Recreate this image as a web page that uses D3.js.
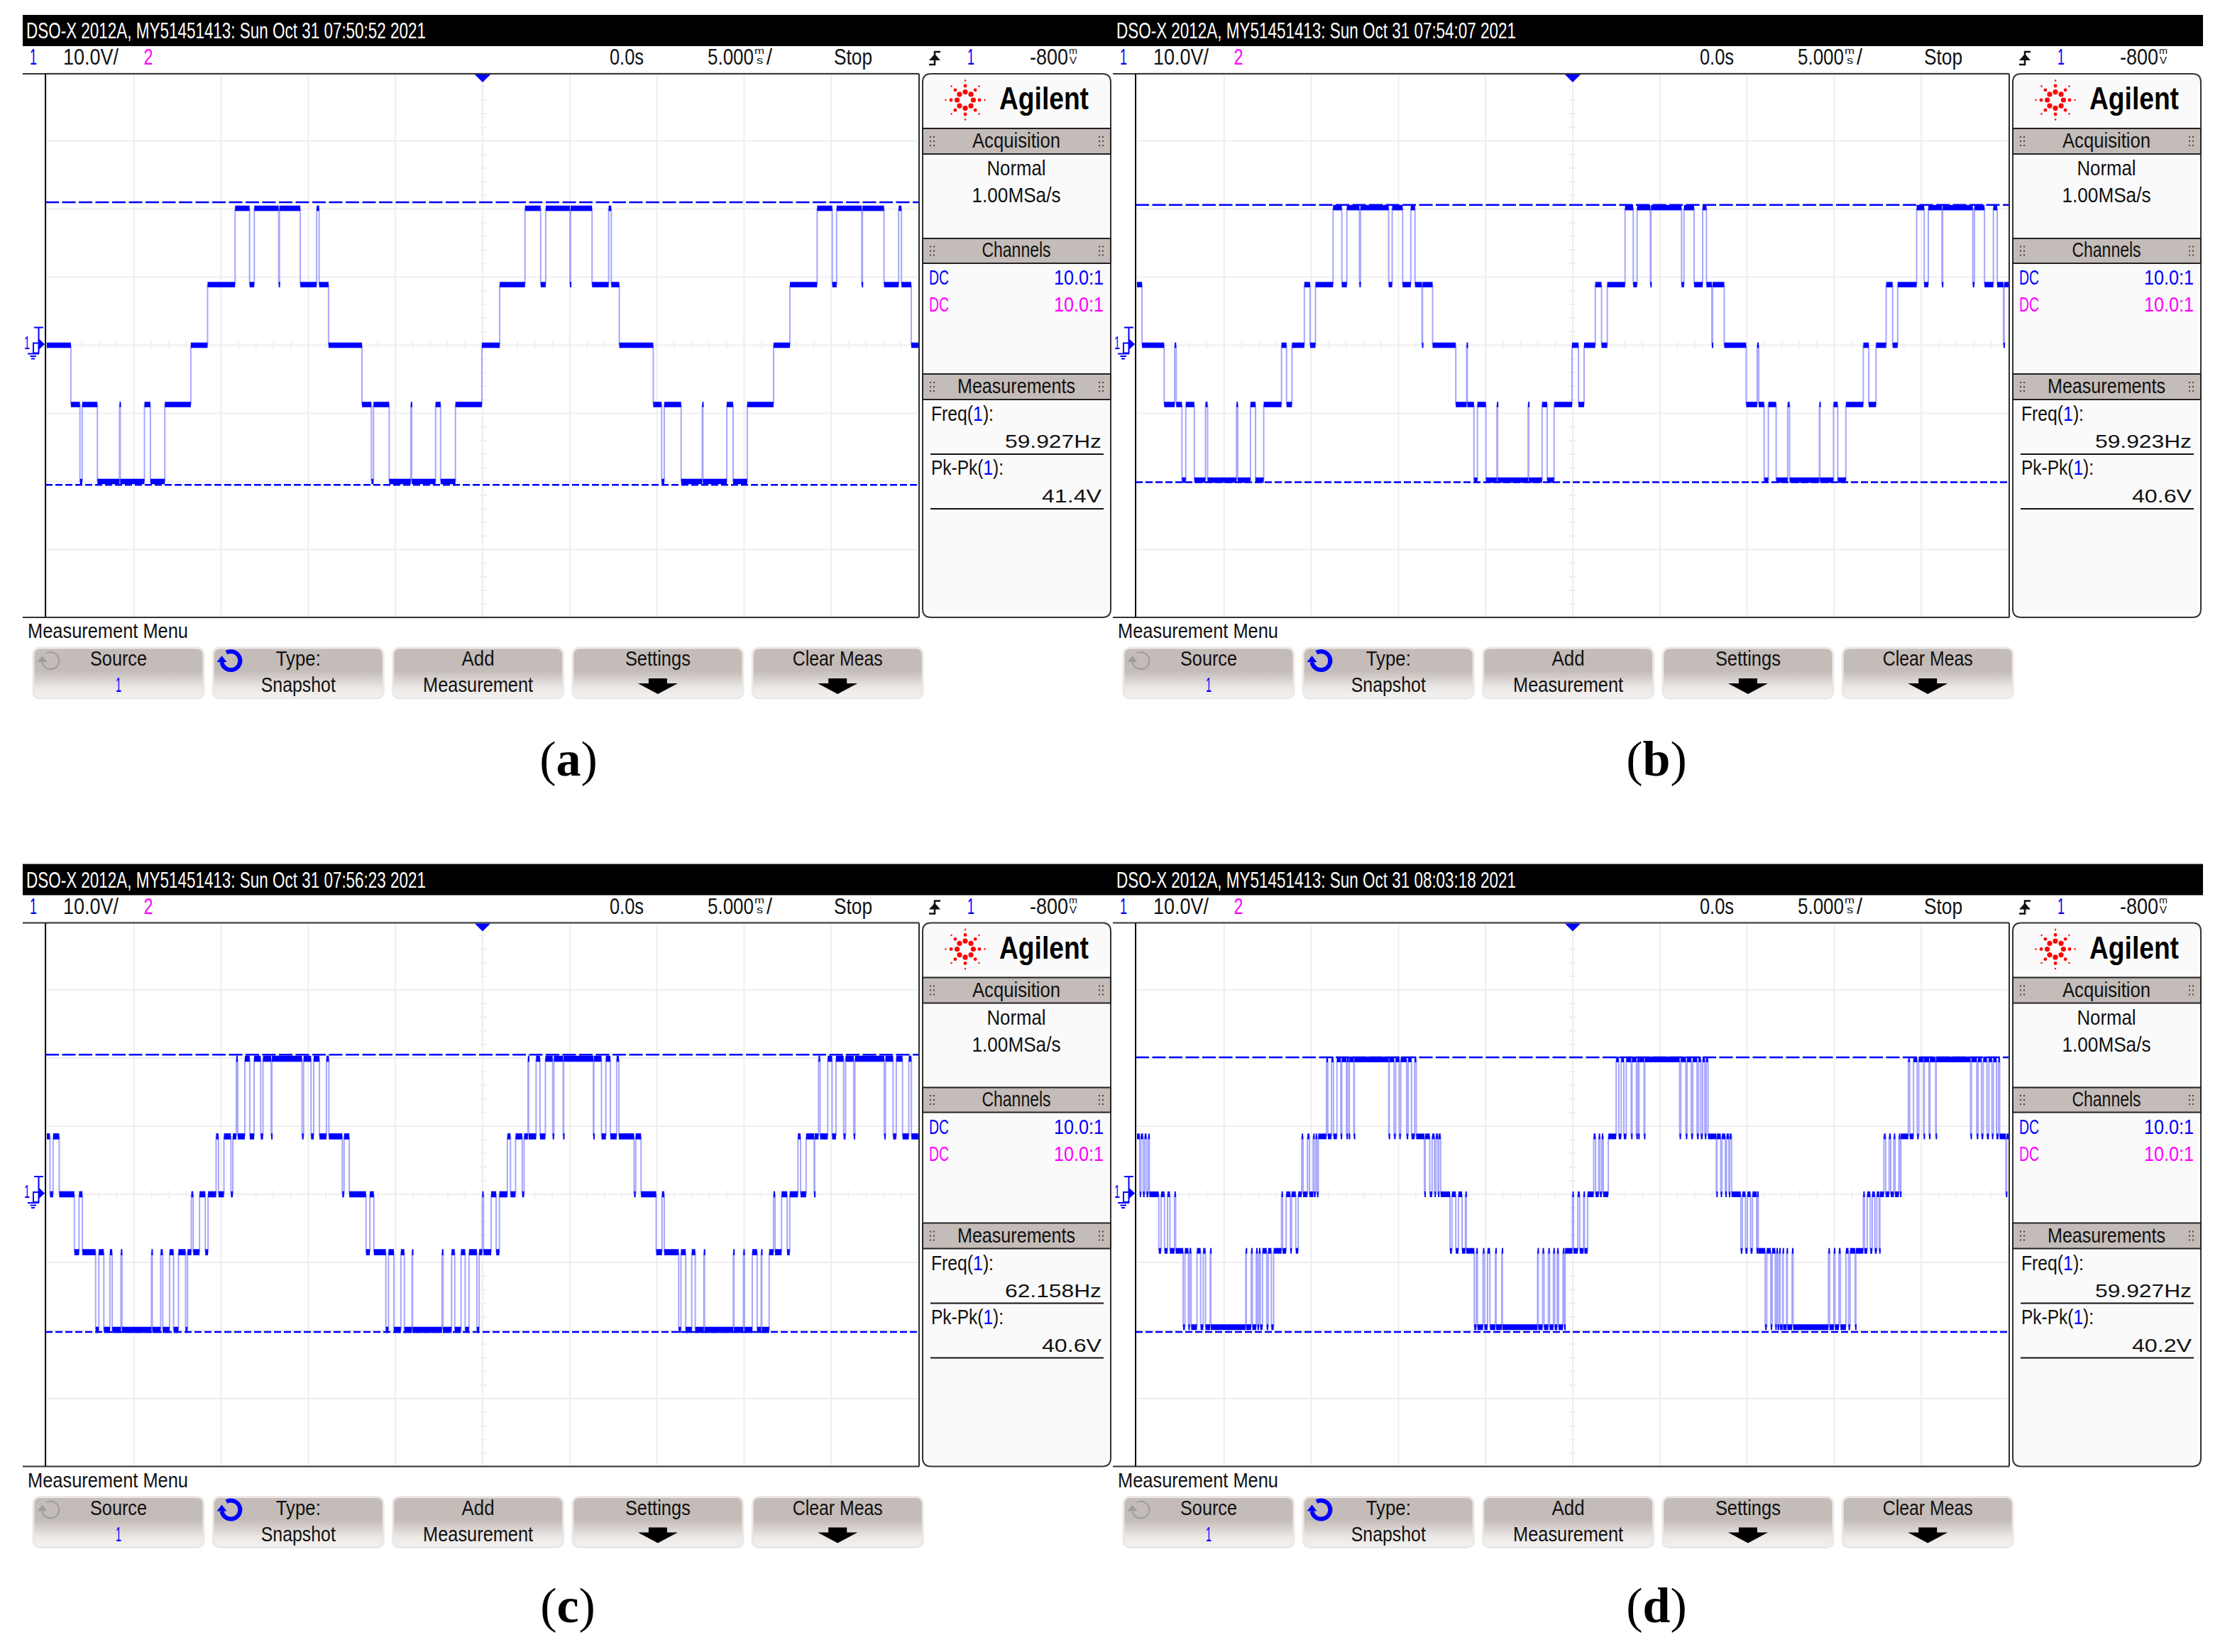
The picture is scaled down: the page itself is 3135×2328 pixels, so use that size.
<!DOCTYPE html>
<html>
<head>
<meta charset="utf-8">
<script src="https://cdnjs.cloudflare.com/ajax/libs/d3/7.8.5/d3.min.js"></script>
<style>
  body { margin: 0; background: #fff; }
  svg { display: block; }
  text { font-family: "Liberation Sans Narrow", "Liberation Sans", sans-serif; }
</style>
</head>
<body>
<div id="chart"></div>
<script>
// scope readings, one entry per screenshot
const panelOrder = ['a', 'b', 'c', 'd'];
const timestamps = ['Sun Oct 31 07:50:52 2021', 'Sun Oct 31 07:54:07 2021', 'Sun Oct 31 07:56:23 2021', 'Sun Oct 31 08:03:18 2021'];
const freqReadings = ['59.927Hz', '59.923Hz', '62.158Hz', '59.927Hz'];
const pkpkReadings = ['41.4V', '40.6V', '40.6V', '40.2V'];

// volts of the five inverter levels (+2, +1, 0, -1, -2)
const levelsA = [20.1, 8.9, 0, -8.7, -20.0];
const levelsB = [20.2, 8.9, 0, -8.7, -19.8];
const levelsC = [19.9, 8.5, 0, -8.5, -19.9];
const levelsD = [19.8, 8.5, 0, -8.3, -19.5];

// dashed cursors, volts
const cursorsA = [21.0, -20.5];
const cursorsB = [20.6, -20.1];
const cursorsC = [20.5, -20.2];
const cursorsD = [20.1, -20.2];

// switching edges: [time in ms, level after the edge]
const edgesA = [[-25,0],[-23.62,-1],[-23.10,-2],[-22.97,-1],[-22.10,-2],[-20.83,-1],[-20.79,-2],[-19.40,-1],[-19.06,-2],[-18.23,-1],
  [-16.74,0],[-15.78,1],[-14.20,2],[-13.37,1],[-13.10,2],[-11.70,1],[-11.66,2],[-10.46,1],[-9.52,2],[-9.38,1],[-8.84,0],
  [-6.92,-1],[-6.38,-2],[-6.26,-1],[-5.36,-2],[-4.12,-1],[-4.07,-2],[-2.70,-1],[-2.41,-2],[-1.56,-1],[-0.04,0],
  [0.98,1],[2.43,2],[3.33,1],[3.62,2],[5.01,1],[5.05,2],[6.28,1],[7.23,2],[7.38,1],[7.84,0],
  [9.79,-1],[10.27,-2],[10.42,-1],[11.39,-2],[12.60,-1],[12.64,-2],[14.01,-1],[14.37,-2],[15.18,-1],[16.69,0],
  [17.63,1],[19.19,2],[20.06,1],[20.31,2],[21.75,1],[21.79,2],[23.03,1],[23.87,2],[24.03,1],[24.59,0],[25,0]];

const edgesB = [[-25,1],[-24.71,0],[-23.44,-1],[-22.84,0],[-22.75,-1],[-22.42,-2],[-22.20,-1],[-21.71,-2],[-21.07,-1],[-20.95,-2],
  [-19.29,-1],[-19.22,-2],[-18.49,-1],[-18.20,-2],[-17.73,-1],[-16.71,0],[-16.42,-1],[-16.11,0],[-15.40,1],[-15.07,0],[-14.76,1],
  [-13.75,2],[-13.25,1],[-12.96,2],[-12.24,1],[-12.18,2],[-10.56,1],[-10.36,2],[-9.76,1],[-9.29,2],[-9.05,1],[-8.65,0],[-8.62,1],[-8.04,0],
  [-6.71,-1],[-6.09,0],[-6.05,-1],[-5.67,-2],[-5.47,-1],[-4.98,-2],[-4.35,-1],[-4.31,-2],[-2.56,-1],[-2.53,-2],[-1.76,-1],[-1.47,-2],[-1.07,-1],
  [-0.04,0],[0.33,-1],[0.65,0],[1.29,1],[1.65,0],[1.98,1],[3.00,2],[3.47,1],[3.69,2],[4.45,1],[4.49,2],[6.24,1],[6.38,2],[6.96,1],[7.45,2],[7.67,1],[7.98,0],[8.02,1],[8.69,0],
  [9.95,-1],[10.58,0],[10.67,-1],[10.98,-2],[11.22,-1],[11.67,-2],[12.33,-1],[12.44,-2],[14.15,-1],[14.18,-2],[14.96,-1],[15.20,-2],[15.67,-1],
  [16.67,0],[16.98,-1],[17.40,0],[17.98,1],[18.35,0],[18.64,1],[19.73,2],[20.16,1],[20.40,2],[21.18,1],[21.22,2],[22.95,1],[23.04,2],[23.62,1],[24.13,2],[24.35,1],[24.71,0],[24.75,1],[25,1]];

const edgesC = [[-25,1],[-24.82,0],[-24.64,1],[-24.29,0],[-23.42,-1],[-23.15,0],[-22.96,-1],[-22.20,-2],[-22.02,-1],[-21.73,-2],[-21.38,-1],[-21.25,-2],[-20.75,-1],[-20.69,-2],
  [-19.00,-1],[-18.95,-2],[-18.47,-1],[-18.35,-2],[-17.96,-1],[-17.73,-2],[-17.45,-1],[-17.04,-2],[-16.93,-1],[-16.71,0],[-16.60,-1],[-16.24,0],[-15.91,-1],[-15.75,0],
  [-15.29,1],[-15.15,0],[-14.84,1],[-14.44,0],[-14.33,1],[-14.13,2],[-14.05,1],[-13.64,2],[-13.36,1],[-13.11,2],[-12.73,1],[-12.60,2],[-12.13,1],[-12.09,2],
  [-10.36,1],[-10.27,2],[-9.84,1],[-9.69,2],[-9.36,1],[-8.96,2],[-8.82,1],[-8.05,0],[-7.95,1],[-7.65,0],[-6.69,-1],[-6.47,0],[-6.24,-1],
  [-5.55,-2],[-5.40,-1],[-5.09,-2],[-4.69,-1],[-4.49,-2],[-4.05,-1],[-4.02,-2],[-2.33,-1],[-2.27,-2],[-1.78,-1],[-1.60,-2],[-1.24,-1],[-1.00,-2],[-0.78,-1],[-0.33,-2],[-0.20,-1],
  [-0.02,0],[0.05,-1],[0.49,0],[0.78,-1],[0.96,0],[1.42,1],[1.60,0],[1.89,1],[2.27,0],[2.38,1],[2.60,2],[2.64,1],[3.07,2],[3.29,1],[3.60,2],[4.02,1],[4.09,2],[4.62,1],[4.65,2],
  [6.35,1],[6.38,2],[6.82,1],[7.07,2],[7.33,1],[7.69,2],[7.82,1],[8.69,0],[8.78,1],[9.09,0],[9.96,-1],[10.29,0],[10.42,-1],
  [11.25,-2],[11.38,-1],[11.65,-2],[12.00,-1],[12.20,-2],[12.69,-1],[12.73,-2],[14.38,-1],[14.42,-2],[14.96,-1],[15.02,-2],[15.47,-1],[15.75,-2],[15.98,-1],[16.02,-2],[16.44,-1],
  [16.69,0],[16.78,-1],[17.15,0],[17.47,-1],[17.62,0],[18.09,1],[18.24,0],[18.56,1],[19.02,0],[19.05,1],[19.27,2],[19.36,1],[19.80,2],[20.05,1],[20.27,2],[20.71,1],[20.82,2],
  [21.29,1],[21.36,2],[23.04,1],[23.11,2],[23.55,1],[23.73,2],[24.09,1],[24.45,2],[24.60,1],[25,1]];

const edgesD = [[-25,1],[-24.84,0],[-24.78,1],[-24.65,0],[-24.56,1],[-24.45,0],[-24.35,1],[-24.29,0],[-23.75,-1],[-23.62,0],[-23.42,-1],[-23.25,0],[-23.11,-1],[-22.85,0],[-22.78,-1],
  [-22.35,-2],[-22.25,-1],[-22.05,-2],[-21.98,-1],[-21.89,-2],[-21.56,-1],[-21.35,-2],[-21.20,-1],[-21.07,-2],[-20.80,-1],[-20.76,-2],
  [-18.76,-1],[-18.73,-2],[-18.45,-1],[-18.38,-2],[-18.16,-1],[-18.09,-2],[-18.00,-1],[-17.93,-2],[-17.80,-1],[-17.56,-2],[-17.47,-1],[-17.29,-2],[-17.16,-1],
  [-16.71,0],[-16.65,-1],[-16.44,0],[-16.20,-1],[-16.13,0],[-15.89,-1],[-15.75,0],[-15.55,1],[-15.47,0],[-15.22,1],[-15.11,0],[-14.89,1],[-14.85,0],[-14.75,1],[-14.67,0],[-14.60,1],
  [-14.13,2],[-14.05,1],[-13.84,2],[-13.73,1],[-13.53,2],[-13.31,1],[-13.25,2],[-12.98,1],[-12.95,2],[-12.85,1],[-12.82,2],[-12.56,1],[-12.53,2],
  [-10.56,1],[-10.53,2],[-10.25,1],[-10.16,2],[-9.95,1],[-9.87,2],[-9.53,1],[-9.44,2],[-9.25,1],[-9.07,2],[-8.98,1],
  [-8.51,0],[-8.47,1],[-8.20,0],[-8.07,1],[-7.93,0],[-7.85,1],[-7.73,0],[-7.69,1],[-7.58,0],[-7.04,-1],[-6.93,0],[-6.71,-1],[-6.56,0],[-6.35,-1],[-6.16,0],[-6.11,-1],
  [-5.65,-2],[-5.53,-1],[-5.47,-2],[-5.15,-1],[-5.07,-2],[-4.89,-1],[-4.75,-2],[-4.44,-1],[-4.40,-2],[-4.07,-1],[-4.04,-2],
  [-2.02,-1],[-1.98,-2],[-1.73,-1],[-1.65,-2],[-1.40,-1],[-1.33,-2],[-1.11,-1],[-1.04,-2],[-0.89,-1],[-0.82,-2],[-0.56,-1],[-0.49,-2],[-0.44,-1],
  [-0.02,0],[0.04,-1],[0.29,0],[0.40,-1],[0.62,0],[0.67,-1],[0.85,0],[1.20,1],[1.31,0],[1.49,1],[1.56,0],[1.67,1],[1.75,0],[2.04,1],
  [2.49,2],[2.64,1],[2.78,2],[2.93,1],[3.07,2],[3.35,1],[3.40,2],[3.65,1],[3.71,2],[3.76,1],[3.80,2],[4.09,1],[4.13,2],
  [6.13,1],[6.20,2],[6.49,1],[6.56,2],[6.80,1],[6.89,2],[7.13,1],[7.22,2],[7.35,1],[7.45,2],[7.58,1],[7.65,2],[7.76,1],
  [8.24,0],[8.27,1],[8.49,0],[8.56,1],[8.75,0],[8.82,1],[8.96,0],[9.00,1],[9.11,0],[9.64,-1],[9.73,0],[9.91,-1],[10.02,0],[10.20,-1],[10.31,0],[10.55,-1],[10.58,0],[10.64,-1],
  [11.04,-2],[11.13,-1],[11.36,-2],[11.44,-1],[11.62,-2],[11.69,-1],[11.75,-2],[11.85,-1],[11.89,-2],[12.04,-1],[12.07,-2],[12.27,-1],[12.31,-2],[12.58,-1],[12.64,-2],
  [14.67,-1],[14.73,-2],[14.98,-1],[15.04,-2],[15.27,-1],[15.36,-2],[15.67,-1],[15.82,-2],[15.91,-1],[16.20,-2],[16.24,-1],
  [16.67,0],[16.73,-1],[16.89,0],[17.07,-1],[17.18,0],[17.33,-1],[17.44,0],[17.58,-1],[17.62,0],[17.85,1],[17.95,0],[18.15,1],[18.24,0],[18.42,1],[18.49,0],[18.71,1],[18.78,0],[18.82,1],
  [19.25,2],[19.33,1],[19.55,2],[19.76,1],[19.85,2],[20.13,1],[20.16,2],[20.44,1],[20.49,2],[20.82,1],[20.85,2],
  [22.82,1],[22.87,2],[23.18,1],[23.25,2],[23.45,1],[23.55,2],[23.76,1],[23.87,2],[24.05,1],[24.13,2],[24.31,1],[24.42,2],[24.49,1],[24.85,0],[24.89,1],[25,1]];

const softKeys = [['Source', '1'], ['Type:', 'Snapshot'], ['Add', 'Measurement'], ['Settings', null], ['Clear Meas', null]];

const allEdges = [edgesA, edgesB, edgesC, edgesD];
const allLevels = [levelsA, levelsB, levelsC, levelsD];
const allCursors = [cursorsA, cursorsB, cursorsC, cursorsD];
const bandHeights = [7.6, 7.6, 8.6, 8];

const width = 3135, height = 2328;
const blue = '#0000ff', magenta = '#ff00ff', ink = '#111';

const svg = d3.select('#chart').append('svg')
  .attr('width', width).attr('height', height);
svg.append('rect').attr('width', width).attr('height', height).attr('fill', '#fff');

const grad = svg.append('defs').append('linearGradient')
  .attr('id', 'keyFill').attr('x1', 0).attr('x2', 0).attr('y1', 0).attr('y2', 1);
grad.append('stop').attr('offset', '0.45').attr('stop-color', '#c4bcb8');
grad.append('stop').attr('offset', '0.8').attr('stop-color', '#ebe8e6');
grad.append('stop').attr('offset', '1').attr('stop-color', '#f4f2f0');

// narrow instrument font: every label gets squeezed to its measured width
function label(g, str, x, y, w, opts = {}) {
  const t = g.append('text')
    .attr('x', x).attr('y', y)
    .attr('text-anchor', opts.anchor || 'start')
    .attr('font-size', opts.size || 29)
    .attr('font-weight', opts.weight || 'normal')
    .attr('fill', opts.fill || ink)
    .attr('textLength', w)
    .attr('lengthAdjust', 'spacingAndGlyphs')
    .text(str);
  if (opts.wide) t.style('font-family', '"Liberation Sans", sans-serif');
  return t;
}

// value with its unit stacked small on top of each other, kept as one text
function stackedUnit(g, parts) {
  const t = g.append('text').attr('fill', ink);
  parts.forEach(([str, x, y, size, w]) => {
    t.append('tspan').attr('x', x).attr('y', y).attr('font-size', size)
      .attr('textLength', w).attr('lengthAdjust', 'spacingAndGlyphs').text(str);
  });
}

function drawPanel(g, i) {
  const x = d3.scaleLinear().domain([-25, 25]).range([66, 1294]);
  const y = d3.scaleLinear().domain([40, -40]).range([102.5, 870.5]);

  // header strip
  g.append('rect').attr('x', 32).attr('y', 21).attr('width', 1536).attr('height', 44).attr('fill', '#000');
  label(g, 'DSO-X 2012A, MY51451413: ' + timestamps[i], 37, 54, 563, { fill: '#fff', size: 32 });

  // status row
  label(g, '1', 47, 91, 10, { fill: blue, anchor: 'middle', size: 32 });
  label(g, '10.0V/', 89, 91, 78, { size: 32 });
  label(g, '2', 209, 91, 13, { fill: magenta, anchor: 'middle', size: 32 });
  label(g, '0.0s', 859, 91, 48, { size: 32 });
  stackedUnit(g, [['5.000', 997, 91, 32, 65], ['m', 1063, 76, 13, 14], ['s', 1066, 90, 14, 9], ['/', 1080, 91, 32, 8]]);
  label(g, 'Stop', 1175, 91, 54, { size: 32 });
  label(g, '1', 1368, 91, 10, { fill: blue, anchor: 'middle', size: 32 });
  stackedUnit(g, [['-800', 1451, 91, 32, 54], ['m', 1506, 76, 13, 12], ['V', 1507, 90, 14, 10]]);

  // trigger slope icon
  g.append('path').attr('d', 'M1309 91H1317V73H1325').attr('fill', 'none').attr('stroke', ink).attr('stroke-width', 2.5);
  g.append('path').attr('d', 'M1309 85L1317 76L1325 85Z').attr('fill', ink);

  // graticule
  const gridColor = '#eeeeee';
  g.selectAll('line.vgrid').data(x.ticks(10)).enter().append('line').attr('class', 'vgrid')
    .attr('x1', d => x(d)).attr('x2', d => x(d)).attr('y1', 104).attr('y2', 870)
    .attr('stroke', gridColor).attr('stroke-width', 2);
  g.selectAll('line.hgrid').data(y.ticks(8)).enter().append('line').attr('class', 'hgrid')
    .attr('x1', 66).attr('x2', 1294).attr('y1', d => y(d)).attr('y2', d => y(d))
    .attr('stroke', gridColor).attr('stroke-width', 2);
  g.selectAll('line.xtick').data(d3.range(-25, 25.01, 1)).enter().append('line').attr('class', 'xtick')
    .attr('x1', d => x(d)).attr('x2', d => x(d)).attr('y1', y(0) - 5).attr('y2', y(0) + 5)
    .attr('stroke', gridColor).attr('stroke-width', 2);
  g.selectAll('line.ytick').data(d3.range(-40, 40.01, 2)).enter().append('line').attr('class', 'ytick')
    .attr('x1', x(0) - 5).attr('x2', x(0) + 5).attr('y1', d => y(d)).attr('y2', d => y(d))
    .attr('stroke', gridColor).attr('stroke-width', 2);

  // cursors
  const cursors = allCursors[i];
  [[cursors[0], '19 4.5'], [cursors[1], '10 4']].forEach(([v, dash]) => {
    g.append('line').attr('x1', 64).attr('x2', 1294).attr('y1', y(v)).attr('y2', y(v))
      .attr('stroke', blue).attr('stroke-width', 2.5).attr('stroke-dasharray', dash);
  });

  // trace: edges are pale, held levels saturate into a thick band
  const edges = allEdges[i];
  const levels = allLevels[i];
  const volts = s => levels[2 - s];
  const pairs = d3.pairs(edges);
  const band = bandHeights[i];
  g.selectAll('line.edge').data(pairs).enter().append('line').attr('class', 'edge')
    .attr('x1', d => x(d[1][0])).attr('x2', d => x(d[1][0]))
    .attr('y1', d => y(volts(d[0][1]))).attr('y2', d => y(volts(d[1][1])))
    .attr('stroke', '#a6a6ff').attr('stroke-width', 2);
  g.selectAll('rect.hold').data(pairs).enter().append('rect').attr('class', 'hold')
    .attr('x', d => x(d[0][0]))
    .attr('width', d => Math.max(2, x(d[1][0]) - x(d[0][0])))
    .attr('y', d => y(volts(d[0][1])) - band / 2)
    .attr('height', band)
    .attr('fill', blue);

  // frame around the plot
  g.append('path').attr('d', 'M32 104H1295').attr('stroke', '#333').attr('stroke-width', 2).attr('fill', 'none');
  g.append('path').attr('d', 'M32 870H1295').attr('stroke', '#333').attr('stroke-width', 2).attr('fill', 'none');
  g.append('path').attr('d', 'M64 104V870').attr('stroke', ink).attr('stroke-width', 2).attr('fill', 'none');
  g.append('path').attr('d', 'M1295 104V870').attr('stroke', '#333').attr('stroke-width', 2).attr('fill', 'none');

  // trigger position marker
  g.append('path').attr('d', `M${x(0) - 11} 105H${x(0) + 11}L${x(0)} 116Z`).attr('fill', blue);

  // channel 1 ground marker
  const gy = y(0);
  label(g, '1', 34, gy + 5, 8, { fill: blue, size: 26 });
  g.append('path')
    .attr('d', `M48 ${gy - 25}H61M54.500 ${gy - 25}V${gy - 3}M47 ${gy - 3}H54.500V${gy + 11}H47ZM39 ${gy + 12}H55M42.500 ${gy + 15.500}H51M44 ${gy + 19}H49`)
    .attr('fill', 'none').attr('stroke', blue).attr('stroke-width', 2);
  g.append('path').attr('d', `M54 ${gy - 10}L63 ${gy - 1.500}L54 ${gy + 7}Z`).attr('fill', blue);

  // side panel
  g.append('path')
    .attr('d', 'M1300 116Q1300 104 1312 104H1553Q1565 104 1565 116V858Q1565 870 1553 870H1312Q1300 870 1300 858Z')
    .attr('fill', '#fafafa').attr('stroke', '#333').attr('stroke-width', 2);

  // agilent spark
  const spark = g.append('g').attr('transform', 'translate(1360,141)');
  const arms = d3.range(0, 360, 45);
  [[11.4, 3.6], [20, 2.4], [27.5, 1.2]].forEach(([r, dot]) => {
    spark.selectAll(null).data(arms).enter().append('circle')
      .attr('cx', a => r * Math.cos(a * Math.PI / 180))
      .attr('cy', a => r * Math.sin(a * Math.PI / 180))
      .attr('r', dot).attr('fill', '#ff0000');
  });
  label(g, 'Agilent', 1408, 154, 126, { size: 44, weight: 'bold', fill: '#000', wide: true });

  const sections = [['Acquisition', 181, 217, 208, 124], ['Channels', 336, 371, 362, 97], ['Measurements', 527, 563, 554, 166]];
  sections.forEach(([name, top, bot, base, w]) => {
    g.append('rect').attr('x', 1300).attr('y', top).attr('width', 265).attr('height', bot - top)
      .attr('fill', '#c4bcb8').attr('stroke', '#222').attr('stroke-width', 2);
    label(g, name, 1432, base, w, { anchor: 'middle', size: 29 });
    [1310, 1315, 1548, 1553].forEach(dx => {
      [-6, 0, 6].forEach(dy => {
        g.append('rect').attr('x', dx).attr('y', (top + bot) / 2 + dy - 1).attr('width', 2).attr('height', 2).attr('fill', '#444');
      });
    });
  });

  label(g, 'Normal', 1432, 247, 83, { anchor: 'middle', size: 29 });
  label(g, '1.00MSa/s', 1432, 285, 125, { anchor: 'middle', size: 29 });
  label(g, 'DC', 1309, 401, 28, { fill: blue, size: 30 });
  label(g, '10.0:1', 1555, 401, 70, { fill: blue, anchor: 'end', size: 30 });
  label(g, 'DC', 1309, 439, 28, { fill: magenta, size: 30 });
  label(g, '10.0:1', 1555, 439, 70, { fill: magenta, anchor: 'end', size: 30 });

  const freq = g.append('text').attr('x', 1312).attr('y', 593).attr('font-size', 29).attr('fill', ink).attr('textLength', 88).attr('lengthAdjust', 'spacingAndGlyphs');
  freq.append('tspan').text('Freq(');
  freq.append('tspan').attr('fill', blue).text('1');
  freq.append('tspan').text('):');
  label(g, freqReadings[i], 1552, 631, 136, { anchor: 'end', size: 26, wide: true });
  g.append('line').attr('x1', 1311).attr('x2', 1555).attr('y1', 640).attr('y2', 640).attr('stroke', ink).attr('stroke-width', 2);
  const pk = g.append('text').attr('x', 1312).attr('y', 669).attr('font-size', 29).attr('fill', ink).attr('textLength', 102).attr('lengthAdjust', 'spacingAndGlyphs');
  pk.append('tspan').text('Pk-Pk(');
  pk.append('tspan').attr('fill', blue).text('1');
  pk.append('tspan').text('):');
  label(g, pkpkReadings[i], 1552, 708, 84, { anchor: 'end', size: 26, wide: true });
  g.append('line').attr('x1', 1311).attr('x2', 1555).attr('y1', 717).attr('y2', 717).attr('stroke', ink).attr('stroke-width', 2);

  // softkeys
  label(g, 'Measurement Menu', 39, 899, 226, { size: 29 });
  const keyX = d3.scaleLinear().domain([0, 5]).range([47, 1313.5]);
  const topW = [80, 63, 46, 92, 127];
  const botW = [8, 105, 155];
  softKeys.forEach(([top, bottom], k) => {
    const kx = keyX(k), cx = kx + 120;
    g.append('rect').attr('x', kx).attr('y', 913).attr('width', 240).attr('height', 71).attr('rx', 9)
      .attr('fill', 'url(#keyFill)').attr('stroke', '#ece8e5').attr('stroke-width', 3);
    label(g, top, cx, 938, topW[k], { anchor: 'middle', size: 29 });
    if (bottom) {
      label(g, bottom, cx, 975, botW[k], { anchor: 'middle', size: 29, fill: k === 0 ? blue : ink });
    } else {
      g.append('path')
        .attr('d', `M${cx - 13} 956H${cx + 13}V963H${cx + 28}L${cx} 978L${cx - 28} 963H${cx - 13}Z`)
        .attr('fill', '#000');
    }
  });
  // knob arrows on the first two keys
  [[71.500, '#9e9e9e', 2, 12], [325.500, blue, 6, 13]].forEach(([cx, col, sw, r]) => {
    g.append('path')
      .attr('d', `M${cx - r * 0.5} ${931 - r * 0.87}A${r} ${r} 0 1 1 ${cx - r} 933`)
      .attr('fill', 'none').attr('stroke', col).attr('stroke-width', sw);
    g.append('path').attr('d', `M${cx - r - 7} 933L${cx - r} 924L${cx - r + 7} 933Z`).attr('fill', col);
  });
}

const panelX = [0, 1536, 0, 1536];
const panelY = [0, 0, 1196.5, 1196.5];
panelOrder.forEach((name, i) => {
  const g = svg.append('g').attr('transform', `translate(${panelX[i]},${panelY[i]})`);
  drawPanel(g, i);
});

// captions
const captionX = [801, 2334, 800, 2334];
const captionY = [1093, 1093, 2286, 2286];
panelOrder.forEach((name, i) => {
  const t = svg.append('text').attr('x', captionX[i]).attr('y', captionY[i])
    .attr('text-anchor', 'middle').attr('font-size', 70).attr('fill', '#000')
    .style('font-family', '"Liberation Serif", serif');
  t.append('tspan').text('(');
  t.append('tspan').attr('font-weight', 'bold').text(name);
  t.append('tspan').text(')');
});
</script>
</body>
</html>
